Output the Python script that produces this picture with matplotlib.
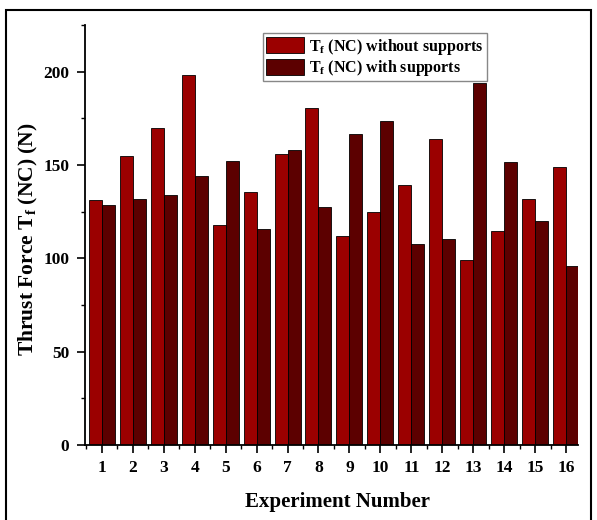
import matplotlib
matplotlib.use("Agg")
import matplotlib.pyplot as plt
import matplotlib.patches as mpatches
import numpy as np
from matplotlib.ticker import MultipleLocator

experiments = list(range(1, 17))
without_supports = [131, 155, 170, 198, 118, 135.5, 156, 180.5, 112, 125, 139.5, 164, 99, 114.5, 132, 149]
with_supports = [128.5, 132, 134, 144, 152, 115.5, 158, 127.5, 166.5, 173.5, 107.5, 110.5, 194, 151.5, 120, 96]

RED = "#9b0000"
DARK = "#5c0000"

plt.rcParams.update({
    "font.family": ["Liberation Serif", "DejaVu Serif"],
    "font.weight": "bold",
    "mathtext.fontset": "custom",
    "mathtext.rm": "Liberation Serif:bold",
    "mathtext.it": "Liberation Serif:bold",
    "mathtext.bf": "Liberation Serif:bold",
})

fig = plt.figure(figsize=(5.97, 5.2), dpi=100)
ax = fig.add_axes([0.142, 0.144, 0.826, 0.808])

# outer frame around the whole picture
fig.patches.append(mpatches.Rectangle(
    (0.010, -0.01), 0.980, 0.99, transform=fig.transFigure,
    fill=False, edgecolor="black", linewidth=1.5))

x = np.array(experiments)
w = 0.42
ax.bar(x - w / 2, without_supports, width=w, color=RED, edgecolor="black",
       linewidth=0.6, label="T$_\\mathregular{f}$ (NC) without supports")
ax.bar(x + w / 2, with_supports, width=w, color=DARK, edgecolor="black",
       linewidth=0.6, label="T$_\\mathregular{f}$ (NC) with supports")

ax.set_xlim(0.45, 16.38)
ax.set_ylim(0, 225)
ax.set_xticks(experiments)
ax.xaxis.set_minor_locator(MultipleLocator(0.5))
ax.yaxis.set_major_locator(MultipleLocator(50))
ax.yaxis.set_minor_locator(MultipleLocator(25))
ax.tick_params(axis="both", which="major", direction="out", length=6, width=1.2,
               labelsize=12.5, pad=5)
ax.tick_params(axis="both", which="minor", direction="out", length=3, width=1.0)
for lab in ax.get_xticklabels() + ax.get_yticklabels():
    lab.set_fontweight("bold")

ax.spines["top"].set_visible(False)
ax.spines["right"].set_visible(False)
ax.spines["left"].set_linewidth(1.3)
ax.spines["bottom"].set_linewidth(1.3)

ax.set_xlabel("Experiment Number", fontsize=15, fontweight="bold")
ax.xaxis.set_label_coords(0.512, -0.112)
ax.set_ylabel("Thrust Force T$_\\mathregular{f}$ (NC) (N)", fontsize=15.5, fontweight="bold")
ax.yaxis.set_label_coords(-0.09, 0.49)

leg = ax.legend(loc="upper left", bbox_to_anchor=(0.361, 0.98), borderaxespad=0,
                fancybox=False, handlelength=2.4, handleheight=1.2,
                handletextpad=0.3, labelspacing=0.1, borderpad=0.2,
                prop={"weight": "bold", "size": 11.5})
leg.get_frame().set_edgecolor("#888888")
leg.get_frame().set_linewidth(1.0)
leg.get_frame().set_alpha(1.0)

fig.savefig("out.png", dpi=100, facecolor="white")
